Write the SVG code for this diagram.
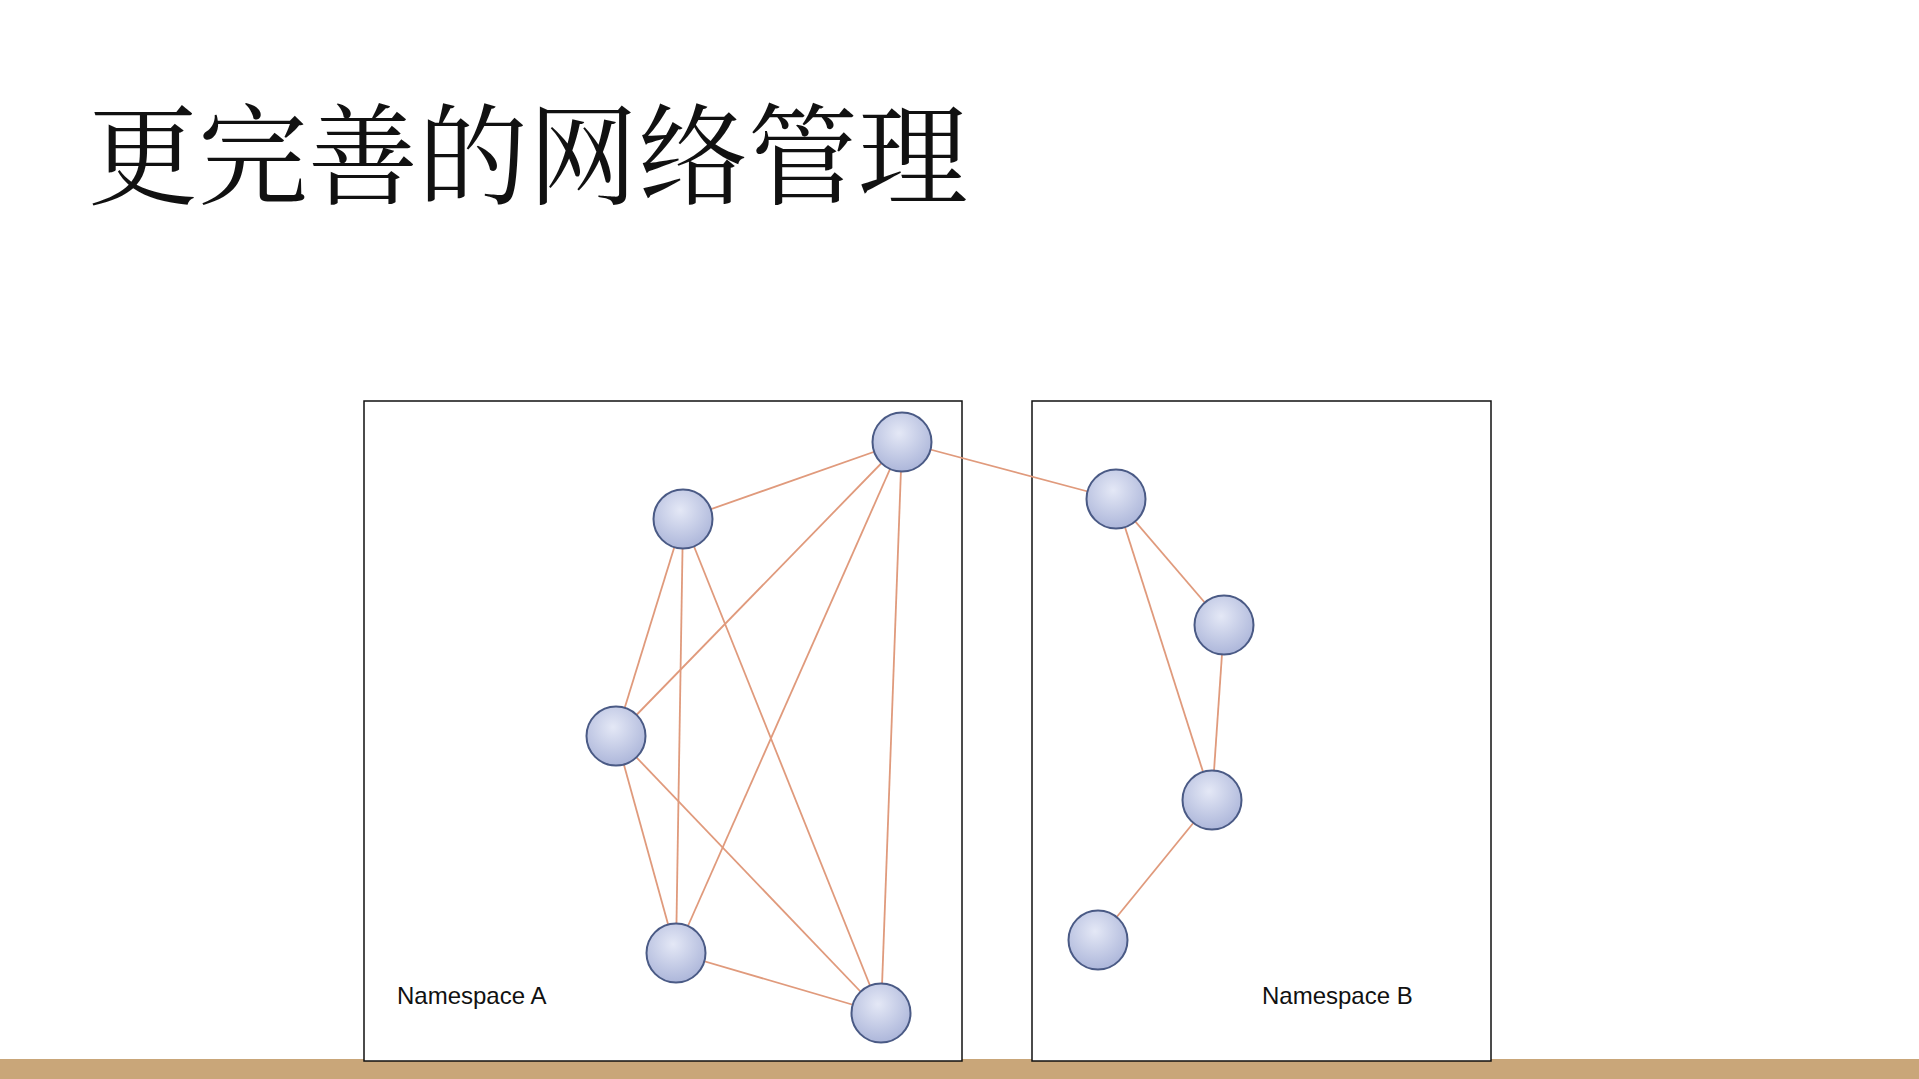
<svg xmlns="http://www.w3.org/2000/svg" width="1919" height="1079" viewBox="0 0 1919 1079">
<style>
.box{fill:#fff;stroke:#111;stroke-width:1.5}
.node{stroke:#4a5a85;stroke-width:2;fill:url(#g)}
.e{stroke:#e09a7c;stroke-width:1.8;fill:none}
.lbl{font-family:"Liberation Sans",Arial,sans-serif;font-size:24px;fill:#111}
</style>
<defs>
<radialGradient id="g" cx="45%" cy="35%" r="70%"><stop offset="0" stop-color="#e4e8f6"/><stop offset="1" stop-color="#a9b3d8"/></radialGradient>
</defs>
<rect width="1919" height="1079" fill="#fff"/>
<text x="88" y="196" font-family="'Noto Serif CJK SC','Noto Sans CJK SC',serif" font-size="110" fill="#111">更完善的网络管理</text>
<rect x="0" y="1059" width="1919" height="20" fill="#c9a679"/>
<g id="nsA"><rect class="box" x="364" y="401" width="598" height="660"/><text class="lbl" x="397" y="1004">Namespace A</text></g>
<g id="nsB"><rect class="box" x="1032" y="401" width="459" height="660"/><text class="lbl" x="1262" y="1004">Namespace B</text></g>
<g id="edges">
<line class="e" x1="902" y1="442" x2="683" y2="519"/>
<line class="e" x1="902" y1="442" x2="616" y2="736"/>
<line class="e" x1="902" y1="442" x2="676" y2="953"/>
<line class="e" x1="902" y1="442" x2="881" y2="1013"/>
<line class="e" x1="902" y1="442" x2="1116" y2="499"/>
<line class="e" x1="683" y1="519" x2="616" y2="736"/>
<line class="e" x1="683" y1="519" x2="676" y2="953"/>
<line class="e" x1="683" y1="519" x2="881" y2="1013"/>
<line class="e" x1="616" y1="736" x2="676" y2="953"/>
<line class="e" x1="616" y1="736" x2="881" y2="1013"/>
<line class="e" x1="676" y1="953" x2="881" y2="1013"/>
<line class="e" x1="1116" y1="499" x2="1224" y2="625"/>
<line class="e" x1="1116" y1="499" x2="1212" y2="800"/>
<line class="e" x1="1224" y1="625" x2="1212" y2="800"/>
<line class="e" x1="1212" y1="800" x2="1098" y2="940"/>
</g>
<g id="a1"><circle class="node" cx="902" cy="442" r="29.5"/></g>
<g id="a2"><circle class="node" cx="683" cy="519" r="29.5"/></g>
<g id="a3"><circle class="node" cx="616" cy="736" r="29.5"/></g>
<g id="a4"><circle class="node" cx="676" cy="953" r="29.5"/></g>
<g id="a5"><circle class="node" cx="881" cy="1013" r="29.5"/></g>
<g id="b1"><circle class="node" cx="1116" cy="499" r="29.5"/></g>
<g id="b2"><circle class="node" cx="1224" cy="625" r="29.5"/></g>
<g id="b3"><circle class="node" cx="1212" cy="800" r="29.5"/></g>
<g id="b4"><circle class="node" cx="1098" cy="940" r="29.5"/></g>
</svg>
